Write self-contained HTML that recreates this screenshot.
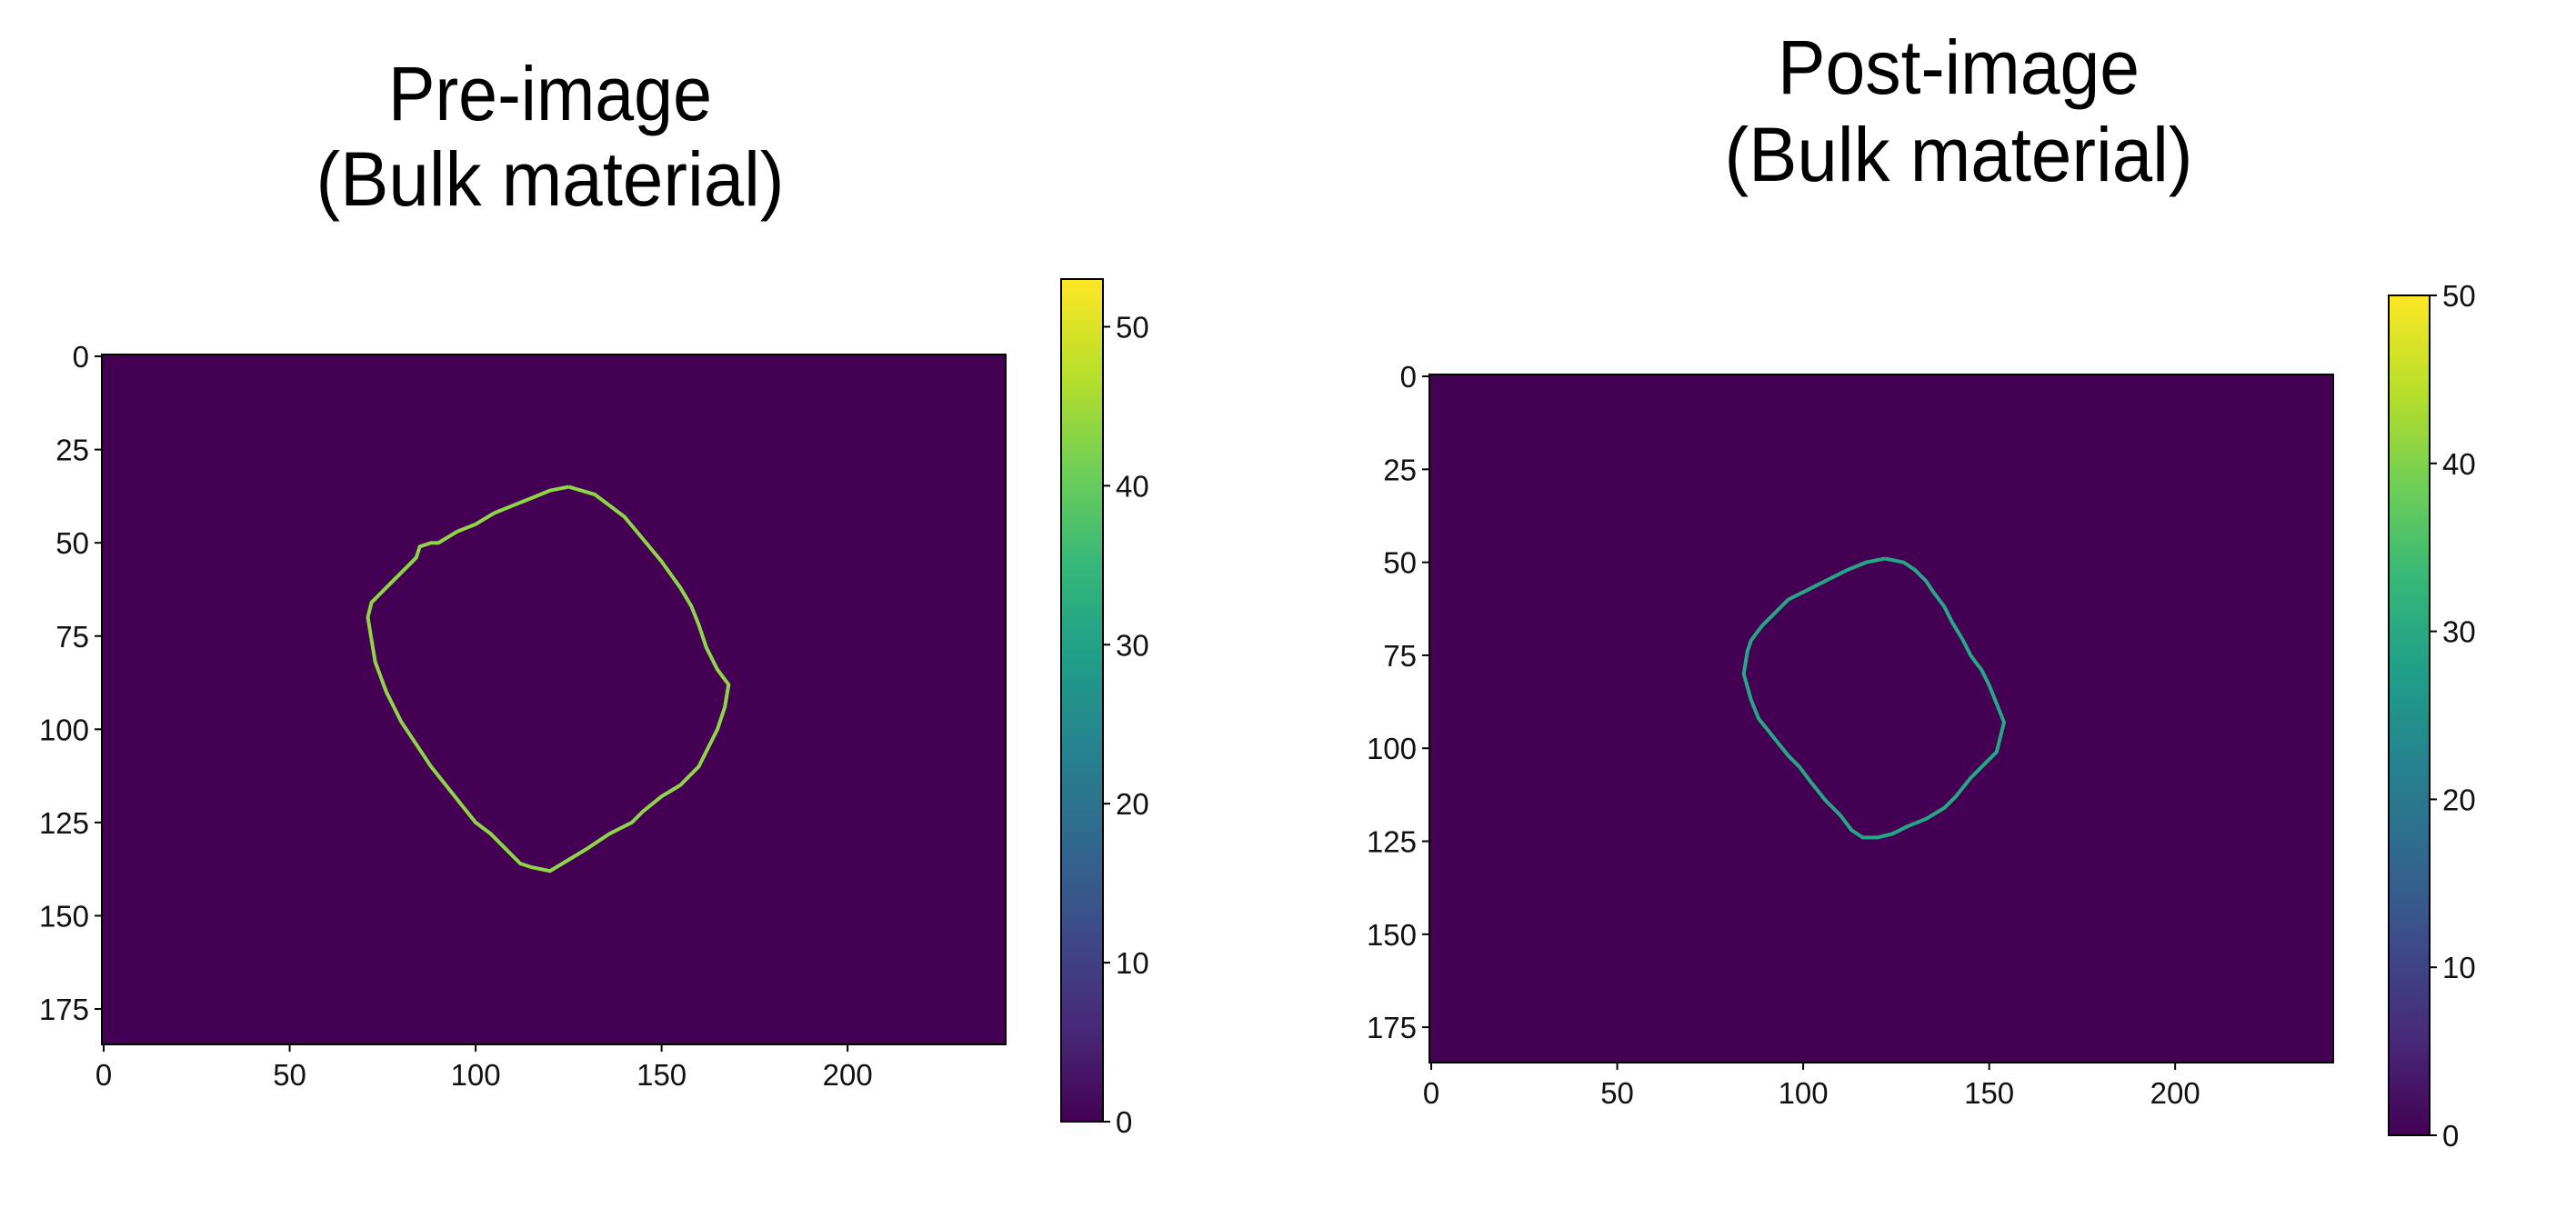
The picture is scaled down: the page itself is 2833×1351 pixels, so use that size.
<!DOCTYPE html>
<html><head><meta charset="utf-8"><style>
html,body{margin:0;padding:0;background:#fff;}
svg{display:block;font-family:"Liberation Sans",sans-serif;}
</style></head><body>
<svg id="fig" width="2833" height="1351" viewBox="0 0 2833 1351" xmlns="http://www.w3.org/2000/svg">
<defs>
<linearGradient id="viridis" x1="0" y1="1" x2="0" y2="0">
<stop offset="0" stop-color="#440154"/><stop offset="0.11" stop-color="#482878"/>
<stop offset="0.22" stop-color="#3e4989"/><stop offset="0.33" stop-color="#31688e"/>
<stop offset="0.44" stop-color="#26828e"/><stop offset="0.55" stop-color="#1f9e89"/>
<stop offset="0.66" stop-color="#35b779"/><stop offset="0.77" stop-color="#6ece58"/>
<stop offset="0.88" stop-color="#b5de2b"/><stop offset="1" stop-color="#fde725"/>
</linearGradient>
</defs>
<text x="605" y="132" font-size="84" text-anchor="middle" textLength="356" lengthAdjust="spacingAndGlyphs">Pre-image</text>
<text x="605" y="226" font-size="84" text-anchor="middle" textLength="515" lengthAdjust="spacingAndGlyphs">(Bulk material)</text>
<text x="2154" y="103" font-size="84" text-anchor="middle" textLength="398" lengthAdjust="spacingAndGlyphs">Post-image</text>
<text x="2154" y="199" font-size="84" text-anchor="middle" textLength="515" lengthAdjust="spacingAndGlyphs">(Bulk material)</text>
<g id="plots"></g>
</svg>
<script>
const xTicks=[0,50,100,150,200];
const yTicks=[0,25,50,75,100,125,150,175];
const imgW=243, imgH=185;
const preCbTicks=[0,10,20,30,40,50];
const postCbTicks=[0,10,20,30,40,50];
const preCbMax=53, postCbMax=50;
const preX=[125,132,136,140,145,150,155,158,160,162,165,168,167,165,162,160,155,150,145,142,136,130,125,120,115,112,108,104,100,96,92,88,84,80,76,73,72,71,72,74,78,82,84,85,88,90,95,100,105,110,115,120,125];
const preY=[35,37,40,43,49,55,62,67,72,78,84,88,94,100,106,110,115,118,122,125,128,132,135,138,137,136,132,128,125,120,115,110,104,98,90,82,76,70,66,64,60,56,54,51,50,50,47,45,42,40,38,36,35];
const postX=[122,127,130,133,135,138,140,143,145,148,150,152,154,153,152,149,145,141,138,133,128,124,120,116,113,110,106,102,99,96,92,88,86,84,85,86,89,92,96,100,104,108,112,117,122];
const postY=[49,50,52,55,58,62,66,71,75,79,83,88,93,97,101,104,108,113,116,119,121,123,124,124,122,118,114,109,105,102,97,92,87,80,74,71,67,64,60,58,56,54,52,50,49];
const preColor='#8fd646', postColor='#25a885';
const NS='http://www.w3.org/2000/svg';
const root=document.getElementById('plots');
function mk(tag,attrs,parent){const e=document.createElementNS(NS,tag);for(const k in attrs)e.setAttribute(k,attrs[k]);(parent||root).appendChild(e);return e;}
function panel(cfg){
  const g=mk('g',{});
  
  
  const L=cfg.L,T=cfg.T,R=cfg.R,B=cfg.B;
  const sx=v=>L+(v+0.5)/imgW*(R-L);
  const sy=v=>T+(v+0.5)/imgH*(B-T);
  const bg=mk('rect',{x:L,y:T,width:R-L,height:B-T,fill:'#440154',stroke:'#000','stroke-width':2},g);
  
  
  let pts=cfg.xs.map((x,i)=>sx(x).toFixed(1)+','+sy(cfg.ys[i]).toFixed(1)).join(' ');
  const c=mk('polyline',{points:pts,fill:'none',stroke:cfg.color,'stroke-width':4,'stroke-linejoin':'miter'},g);
  
  
  xTicks.forEach(t=>{
    const x=sx(t);
    mk('line',{x1:x,y1:B,x2:x,y2:B+8,stroke:'#000','stroke-width':2},g);
    const tx=mk('text',{x:x,y:B+45,'font-size':33,'text-anchor':'middle',fill:'#111'},g);
    tx.textContent=t;
    
    
  });
  yTicks.forEach(t=>{
    const y=sy(t);
    mk('line',{x1:L-8,y1:y,x2:L,y2:y,stroke:'#000','stroke-width':2},g);
    const tx=mk('text',{x:L-14,y:y+12,'font-size':33,'text-anchor':'end',fill:'#111'},g);
    tx.textContent=t;
    
    
  });
  const cb=mk('rect',{x:cfg.cbL,y:cfg.cbT,width:cfg.cbW,height:cfg.cbB-cfg.cbT,fill:'url(#viridis)',stroke:'#000','stroke-width':2},g);
  
  
  cfg.cbTicks.forEach(t=>{
    const y=cfg.cbB-t/cfg.cbMax*(cfg.cbB-cfg.cbT);
    const xr=cfg.cbL+cfg.cbW;
    mk('line',{x1:xr,y1:y,x2:xr+8,y2:y,stroke:'#000','stroke-width':2},g);
    const tx=mk('text',{x:xr+14,y:y+12,'font-size':33,fill:'#111'},g);
    tx.textContent=t;
    
    
  });
}
panel({name:'pre',L:112,T:390,R:1106,B:1149,xs:preX,ys:preY,color:preColor,cbL:1167,cbT:307,cbW:46,cbB:1234,cbTicks:preCbTicks,cbMax:preCbMax});
panel({name:'post',L:1572,T:412,R:2566,B:1169,xs:postX,ys:postY,color:postColor,cbL:2627,cbT:325,cbW:45,cbB:1249,cbTicks:postCbTicks,cbMax:postCbMax});
</script>
</body></html>
